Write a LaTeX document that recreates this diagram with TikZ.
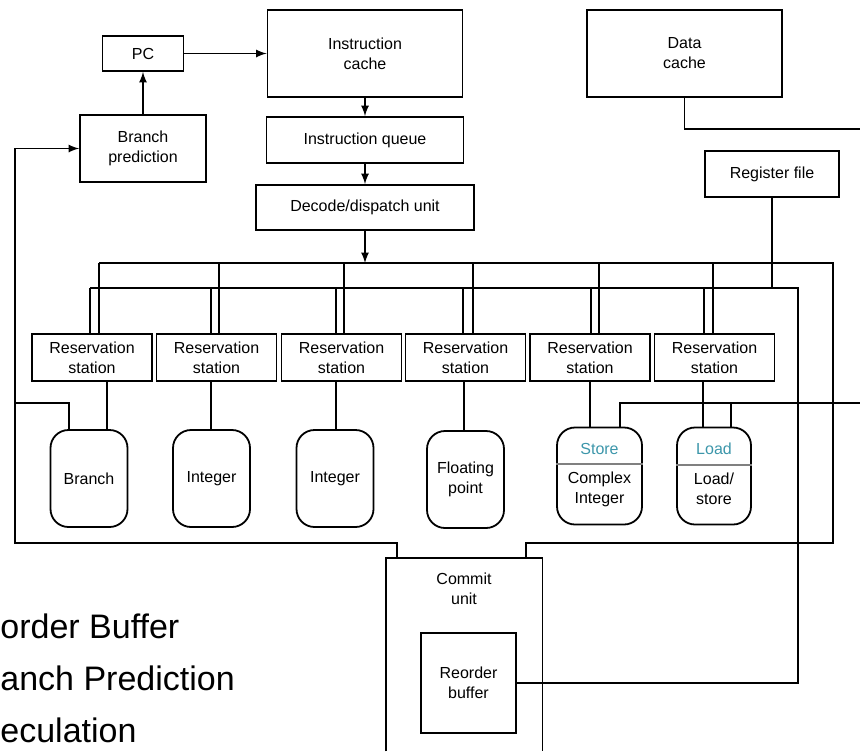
\documentclass[tikz,border=0pt]{standalone}
\usepackage{fontspec}
\setmainfont{Liberation Sans}
\definecolor{storeteal}{RGB}{60,150,170}

\begin{document}
\begin{tikzpicture}[x=0.5pt,y=-0.5pt,>=latex,
   blk/.style={draw,line width=0.9pt,align=center,inner sep=1pt,
               font=\fontsize{8}{10}\selectfont},
   fu/.style={draw,line width=0.9pt,rounded corners=9pt,align=center,inner sep=1pt,
              minimum width=38.5pt,minimum height=48.5pt,font=\fontsize{8}{10}\selectfont},
   txt/.style={align=center,inner sep=1pt,font=\fontsize{8}{10}\selectfont},
   wire/.style={line width=0.8pt},
   bullet/.style={anchor=base west,inner sep=0pt,font=\fontsize{17}{20}\selectfont}]
   \useasboundingbox (0,0) rectangle (860,751);
   % front end
   \node[blk,minimum width=40.5pt,minimum height=17.5pt] (pc) at (143,53.5) {PC};
   \node[blk,minimum width=97.5pt,minimum height=43.5pt] (icache) at (365,53.5) {Instruction\\cache};
   \node[blk,minimum width=63pt,minimum height=33.5pt] (bpred) at (143,148.5) {Branch\\prediction};
   \node[blk,minimum width=98.5pt,minimum height=23pt] (iqueue) at (365,140) {Instruction queue};
   \node[blk,minimum width=109pt,minimum height=22.5pt] (decode) at (365,207.5) {Decode/dispatch unit};
   \node[blk,minimum width=97.5pt,minimum height=43.5pt] (dcache) at (684.5,53.5) {Data\\cache};
   \node[blk,minimum width=67pt,minimum height=23pt] (regfile) at (772,174) {Register file};
   \draw[wire,->] (pc) -- (icache);
   \draw[wire,->] (bpred) -- (pc);
   \draw[wire,->] (icache) -- (iqueue);
   \draw[wire,->] (iqueue) -- (decode);
   \coordinate (bustop) at (365,263);
   \draw[wire,->] (decode) -- (bustop);
   % reservation stations
   \foreach \i/\x in {1/92,2/216.5,3/341.5,4/465.5,5/590,6/714.5} {
    \node[blk,minimum width=60pt,minimum height=23.5pt] (rs\i) at (\x,357.5) {Reservation\\station};
   }
   % functional units
   \node[fu] (fu1) at (89,478.5) {Branch};
   \node[fu] (fu2) at (211.5,478.5) {Integer};
   \node[fu] (fu3) at (335,478.5) {Integer};
   \node[fu] (fu4) at (465.5,479.5) {Floating\\point};
   \node[fu,minimum width=42.5pt] (fu5) at (599.5,476) {};
   \node[fu,minimum width=37pt] (fu6) at (714,476) {};
   \node[txt,text=storeteal] (store) at (599.5,449) {Store};
   \node[txt] (cint) at (599.5,489) {Complex\\Integer};
   \node[txt,text=storeteal] (load) at (714,449) {Load};
   \node[txt] (ldst) at (714,489) {Load/\\store};
   \draw[gray,line width=0.6pt] (fu5.west |- 0,464) -- (fu5.east |- 0,464);
   \draw[gray,line width=0.6pt] (fu6.west |- 0,465) -- (fu6.east |- 0,465);
   % commit unit
   \node[minimum width=78pt,minimum height=96.5pt] (commit) at (464,654.5) {};
   \draw[line width=0.9pt] (commit.south west) -- (commit.north west)
      -- (commit.north east) -- (commit.south east);
   \node[txt] (commitlbl) at (464,589) {Commit\\unit};
   \node[blk,minimum width=47.5pt,minimum height=50pt] (rob) at (468.5,683) {Reorder\\buffer};
   % buses
   \draw[wire] (99,263) -- (833,263) |- (526,543) -- (526,0 |- commit.north);
   \draw[wire] (90,288) -- (798,288) |- (rob.east);
   \draw[wire] (regfile) -- (regfile.south |- 0,288);
   \foreach \i/\lo/\up in {1/90/99,2/211/219,3/336/344,4/463/473,5/591/599,6/704/713} {
    \draw[wire] (\up,263) -- (\up,0 |- rs\i.north);
    \draw[wire] (\lo,288) -- (\lo,0 |- rs\i.north);
   }
   \foreach \i/\x in {1/107,2/211,3/336,4/464,5/590,6/703} {
    \draw[wire] (\x,0 |- rs\i.south) -- (\x,0 |- fu\i.north);
   }
   % memory side
   \coordinate (dcout) at (860,129);
   \coordinate (memout) at (860,403);
   \draw[wire] (dcache) |- (dcout);
   \draw[wire] (memout) -| (620,0 |- fu5.north);
   \draw[wire] (731,403) -- (731,0 |- fu6.north);
   % branch feedback
   \draw[wire,->] (397,0 |- commit.north) |- (15,543) |- (bpred);
   \draw[wire] (69,0 |- fu1.north) |- (15,403);
   % slide text
   \node[bullet] (b1) at (0,638) {order Buffer};
   \node[bullet] (b2) at (0,690) {anch Prediction};
   \node[bullet] (b3) at (0,742) {eculation};
\end{tikzpicture}
\end{document}
